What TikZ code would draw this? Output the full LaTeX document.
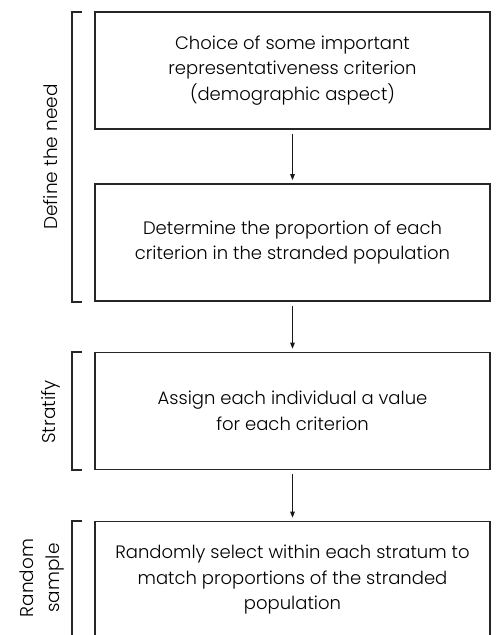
\documentclass[tikz,border=0pt]{standalone}
\usepackage{fontspec}
\setmainfont{Poppins}[UprightFont=* Light]
\usetikzlibrary{arrows.meta}
\begin{document}
\begin{tikzpicture}[x=1pt,y=-1pt,
  stepbox/.style={draw=black!85, line width=1.6pt, minimum width=395pt, minimum height=117pt, align=center, font=\fontsize{18}{25.5}\selectfont, inner sep=0pt},
  flow/.style={-{Triangle[length=6pt,width=4.5pt]}, line width=1.1pt, draw=black!90},
  brk/.style={draw=black!85, line width=1.6pt},
  side/.style={rotate=90, align=center, font=\fontsize{18.5}{26}\selectfont}]
\useasboundingbox (0,0) rectangle (497,635);
\node[stepbox] (b1) at (292.5,70.5) {Choice of some important\\representativeness criterion\\(demographic aspect)};
\node[stepbox] (b2) at (292.5,242.5) {Determine the proportion of each\\criterion in the stranded population};
\node[stepbox] (b3) at (292.5,411) {Assign each individual a value\\for each criterion};
\node[stepbox] (b4) at (292.5,580) {Randomly select within each stratum to\\match proportions of the stranded\\population};
\draw[flow] ([yshift=-4pt]b1.south) -- ([yshift=3pt]b2.north);
\draw[flow] ([yshift=-4pt]b2.south) -- ([yshift=3pt]b3.north);
\draw[flow] ([yshift=-4pt]b3.south) -- ([yshift=3pt]b4.north);
\draw[brk] (82,12) -- (72,12) -- (72,302) -- (82,302);
\draw[brk] (82,352) -- (72,352) -- (72,470) -- (82,470);
\draw[brk] (82,521) -- (72,521) -- (72,650);
\node[side] (l1) at (51,157) {Define the need};
\node[side] (l2) at (51,412) {Stratify};
\node[side] (l3) at (42,578) {Random\\sample};
\end{tikzpicture}
\end{document}
